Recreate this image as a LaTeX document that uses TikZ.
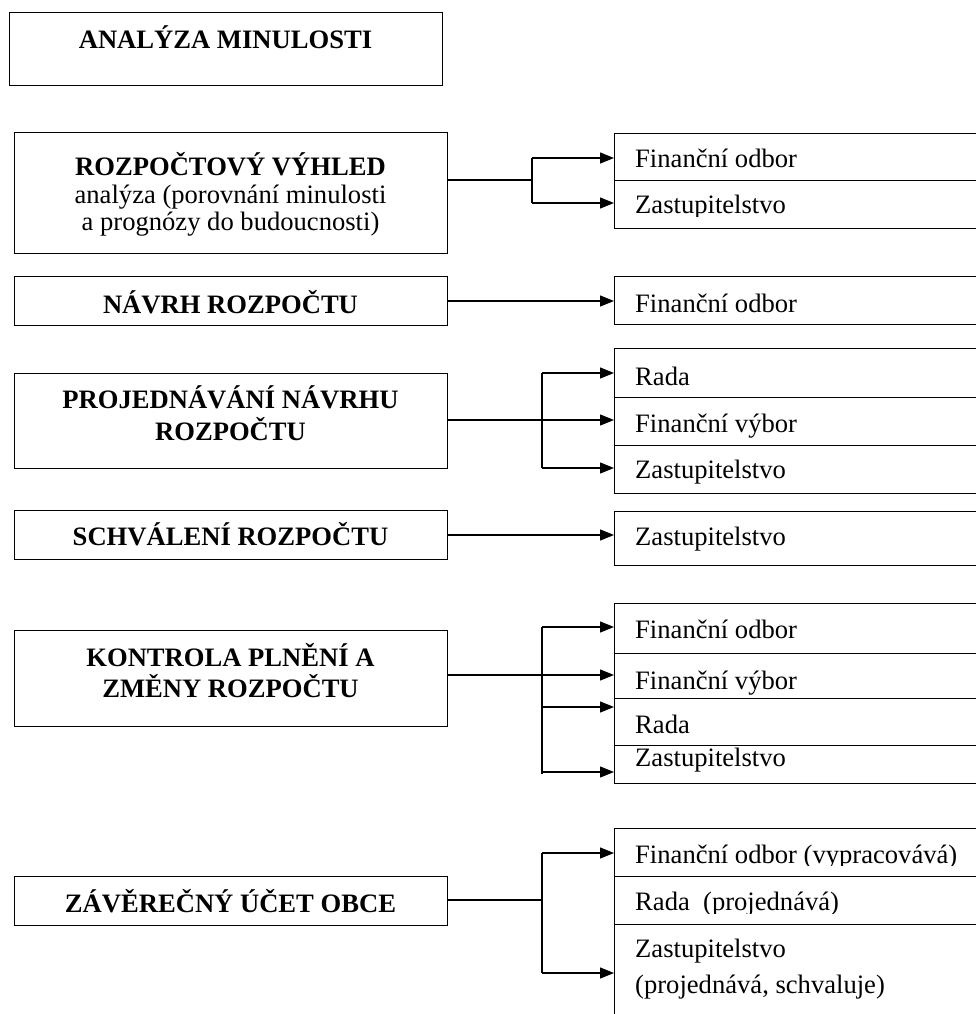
\documentclass[tikz,border=0pt]{standalone}
\usepackage{fontspec}
\setmainfont{Liberation Serif}
\usetikzlibrary{arrows.meta}
\begin{document}
\begin{tikzpicture}[x=1pt,y=1pt,
  box/.style={draw, line width=1.4pt, inner sep=0pt, minimum width=433pt, anchor=north west},
  cell/.style={draw, line width=1.3pt, inner sep=0pt, minimum width=380pt, anchor=north west},
  lbl/.style={inner sep=0pt, anchor=base, font=\fontsize{26.6}{30}\selectfont\bfseries},
  sub/.style={inner sep=0pt, anchor=base, font=\fontsize{26.6}{30}\selectfont},
  txt/.style={inner sep=0pt, anchor=base west, font=\fontsize{26.6}{30}\selectfont},
  link/.style={line width=1.3pt},
  arr/.style={line width=1.3pt, -{Triangle[length=14pt,width=11pt]}},
  mask/.style={fill=white}
]
\useasboundingbox (0,0) rectangle (976,-1014);

% ---------- left boxes ----------
\node[box, minimum height=73pt] (A) at (9,-12) {};
\node[lbl] (At) at (225.5,-49) {ANALÝZA MINULOSTI};

\node[box, minimum height=121pt] (B) at (14,-132) {};
\node[lbl] (Bt1) at (230.5,-175) {ROZPOČTOVÝ VÝHLED};
\node[sub] (Bt2) at (230.5,-203) {analýza (porovnání minulosti};
\node[sub] (Bt3) at (230.5,-230) {a prognózy do budoucnosti)};

\node[box, minimum height=49pt] (C) at (14,-276) {};
\node[lbl] (Ct) at (230.5,-313) {NÁVRH ROZPOČTU};

\node[box, minimum height=95pt] (D) at (14,-373) {};
\node[lbl] (Dt1) at (230.5,-408) {PROJEDNÁVÁNÍ NÁVRHU};
\node[lbl] (Dt2) at (230.5,-440) {ROZPOČTU};

\node[box, minimum height=49pt] (E) at (14,-510) {};
\node[lbl] (Et) at (230.5,-545) {SCHVÁLENÍ ROZPOČTU};

\node[box, minimum height=96pt] (F) at (14,-630) {};
\node[lbl] (Ft1) at (230.5,-666) {KONTROLA PLNĚNÍ A};
\node[lbl] (Ft2) at (230.5,-697) {ZMĚNY ROZPOČTU};

\node[box, minimum height=49pt] (G) at (14,-876) {};
\node[lbl] (Gt) at (230.5,-912) {ZÁVĚREČNÝ ÚČET OBCE};

% ---------- right cells ----------
\node[cell, minimum height=47pt] (B1) at (614,-133) {};
\node[cell, minimum height=48pt] (B2) at (614,-180) {};
\node[txt] (B1t) at (635,-167) {Finanční odbor};
\node[txt] (B2t) at (635,-213) {Zastupitelstvo};

\node[cell, minimum height=48pt] (C1) at (614,-276) {};
\node[txt] (C1t) at (635,-312) {Finanční odbor};

\node[cell, minimum height=49pt] (D1) at (614,-348) {};
\node[cell, minimum height=48pt] (D2) at (614,-397) {};
\node[cell, minimum height=48pt] (D3) at (614,-445) {};
\node[txt] (D1t) at (635,-385) {Rada};
\node[txt] (D2t) at (635,-432) {Finanční výbor};
\node[txt] (D3t) at (635,-478) {Zastupitelstvo};

\node[cell, minimum height=54pt] (E1) at (614,-511) {};
\node[txt] (E1t) at (635,-545) {Zastupitelstvo};

\node[cell, minimum height=50pt] (F1) at (614,-603) {};
\node[cell, minimum height=45pt] (F2) at (614,-653) {};
\node[cell, minimum height=47pt] (F3) at (614,-698) {};
\node[cell, minimum height=38pt] (F4) at (614,-745) {};
\node[txt] (F1t) at (635,-638) {Finanční odbor};
\node[txt] (F2t) at (635,-689) {Finanční výbor};
\node[txt] (F3t) at (635,-733) {Rada};
\node[txt] (F4t) at (635,-766) {Zastupitelstvo};

\node[cell, minimum height=48pt] (G1) at (614,-828) {};
\node[cell, minimum height=48pt] (G2) at (614,-876) {};
\node[cell, minimum height=110pt] (G3) at (614,-924) {};
\node[txt] (G1t) at (635,-863) {Finanční odbor (vypracovává)};
\node[txt] (G2t) at (635,-910) {Rada\ \ (projednává)};
\node[txt] (G3t1) at (635,-957) {Zastupitelstvo};
\node[txt] (G3t2) at (635,-993) {(projednává, schvaluje)};

% clipped descenders (inner margin of the text frames)
\fill[mask] (615.2,-217) rectangle (995,-227.3);
\fill[mask] (615.2,-866) rectangle (995,-875.3);
\fill[mask] (615.2,-914) rectangle (995,-923.3);

% ---------- connectors ----------
\coordinate (bj) at (532,-180);
\coordinate (b1) at (532,-158);
\coordinate (b2) at (532,-203);
\draw[link] (B.east |- bj) -- (bj);
\draw[link] (b1) -- (b2);
\draw[arr] (b1) -- (B1.west |- b1);
\draw[arr] (b2) -- (B2.west |- b2);

\coordinate (c1) at (447,-301);
\draw[arr] (C.east |- c1) -- (C1.west |- c1);

\coordinate (d1) at (542,-373);
\coordinate (d2) at (542,-420);
\coordinate (d3) at (542,-468);
\draw[arr] (D.east |- d2) -- (D2.west |- d2);
\draw[link] (d1) -- (d3);
\draw[arr] (d1) -- (D1.west |- d1);
\draw[arr] (d3) -- (D3.west |- d3);

\coordinate (e1) at (447,-535);
\draw[arr] (E.east |- e1) -- (E1.west |- e1);

\coordinate (f1) at (542,-627);
\coordinate (f2) at (542,-675);
\coordinate (f3) at (542,-707);
\coordinate (f4) at (542,-772);
\coordinate (fe) at (542,-774);
\draw[arr] (F.east |- f2) -- (F2.west |- f2);
\draw[link] (f1) -- (fe);
\draw[arr] (f1) -- (F1.west |- f1);
\draw[arr] (f3) -- (F3.west |- f3);
\draw[arr] (f4) -- (F4.west |- f4);

\coordinate (g0) at (542,-900);
\coordinate (g1) at (542,-853);
\coordinate (g3) at (542,-973);
\draw[link] (G.east |- g0) -- (g0);
\draw[link] (g1) -- (g3);
\draw[arr] (g1) -- (G1.west |- g1);
\draw[arr] (g3) -- (G3.west |- g3);
\end{tikzpicture}
\end{document}
